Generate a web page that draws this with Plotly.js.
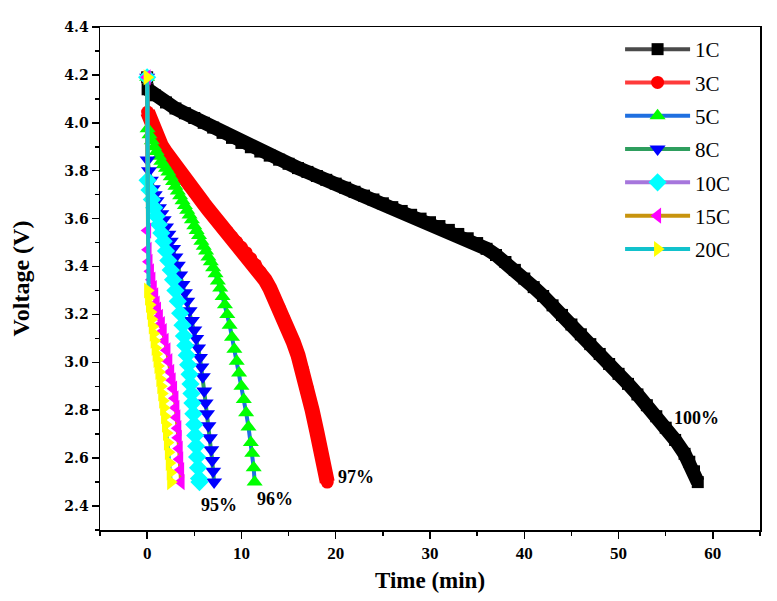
<!DOCTYPE html>
<html><head><meta charset="utf-8">
<script src="https://cdn.plot.ly/plotly-3.0.1.min.js"></script>
<style>html,body{margin:0;padding:0;background:#fff}#chart{width:777px;height:601px}</style>
</head><body><div id="chart"></div>
<script>
// ---- data ----
const seriesNames = ['1C','3C','5C','8C','10C','15C','20C'];

const t1C = [0, 0.05, 0.8, 2, 3, 4, 5, 6, 7, 8, 9, 10, 11, 12, 13, 14, 15, 16, 17, 18, 19, 20, 21, 22, 23, 24, 25, 26, 27, 28, 29, 30, 31, 32, 33, 34, 35, 36, 37, 38, 39, 40, 41, 42, 43, 44, 45, 46, 47, 48, 49, 50, 51, 52, 53, 54, 55, 56, 57, 57.5, 58, 58.4];
const v1C = [4.19, 4.14, 4.115, 4.085, 4.06, 4.04, 4.02, 4.0, 3.98, 3.958, 3.937, 3.916, 3.898, 3.88, 3.863, 3.846, 3.829, 3.811, 3.795, 3.778, 3.762, 3.746, 3.729, 3.712, 3.696, 3.68, 3.664, 3.648, 3.632, 3.616, 3.6, 3.585, 3.569, 3.553, 3.536, 3.518, 3.498, 3.474, 3.448, 3.419, 3.386, 3.35, 3.314, 3.277, 3.238, 3.198, 3.158, 3.117, 3.076, 3.035, 2.993, 2.952, 2.91, 2.866, 2.821, 2.775, 2.727, 2.676, 2.618, 2.585, 2.545, 2.5];

const t3C = [0, 0.05, 0.5, 1, 1.5, 2, 2.5, 3, 3.5, 4, 4.5, 5, 5.5, 6, 6.5, 7, 7.5, 8, 8.5, 9, 9.5, 10, 10.5, 11, 11.5, 12, 12.5, 13, 13.5, 14, 14.5, 15, 15.5, 16, 16.5, 17, 17.5, 18, 18.5, 18.8, 19.1];
const v3C = [4.19, 4.045, 3.99, 3.94, 3.905, 3.875, 3.845, 3.815, 3.79, 3.762, 3.737, 3.712, 3.688, 3.663, 3.638, 3.614, 3.592, 3.568, 3.545, 3.523, 3.502, 3.48, 3.458, 3.433, 3.407, 3.377, 3.345, 3.31, 3.27, 3.228, 3.183, 3.135, 3.085, 3.03, 2.97, 2.89, 2.80, 2.71, 2.61, 2.55, 2.5];

const t5C = [0, 0.05, 0.25, 0.5, 0.75, 1.0, 1.25, 1.5, 1.75, 2.0, 2.25, 2.5, 2.75, 3.0, 3.25, 3.5, 3.75, 4.0, 4.25, 4.5, 4.75, 5.0, 5.25, 5.5, 5.75, 6.0, 6.25, 6.5, 6.75, 7.0, 7.25, 7.5, 7.75, 8.0, 8.25, 8.5, 8.75, 9.0, 9.25, 9.5, 9.75, 10.0, 10.25, 10.5, 10.75, 11.0, 11.15, 11.3, 11.4];
const v5C = [4.19, 3.975, 3.95, 3.925, 3.90, 3.88, 3.86, 3.84, 3.825, 3.81, 3.795, 3.775, 3.755, 3.735, 3.715, 3.695, 3.675, 3.655, 3.635, 3.615, 3.595, 3.57, 3.55, 3.53, 3.505, 3.485, 3.465, 3.44, 3.42, 3.395, 3.37, 3.34, 3.31, 3.275, 3.24, 3.20, 3.155, 3.105, 3.055, 3.005, 2.955, 2.90, 2.845, 2.79, 2.73, 2.665, 2.62, 2.56, 2.50];

const t8C = [0, 0.05, 0.2, 0.4, 0.6, 0.8, 1.0, 1.25, 1.5, 1.75, 2.0, 2.25, 2.5, 2.75, 3.0, 3.25, 3.5, 3.75, 4.0, 4.25, 4.5, 4.75, 5.0, 5.2, 5.4, 5.6, 5.75, 5.9, 6.05, 6.2, 6.35, 6.5, 6.65, 6.8, 6.9, 7.0, 7.1];
const v8C = [4.19, 3.845, 3.80, 3.76, 3.725, 3.70, 3.675, 3.645, 3.62, 3.595, 3.565, 3.535, 3.505, 3.475, 3.44, 3.405, 3.365, 3.325, 3.29, 3.255, 3.215, 3.175, 3.135, 3.10, 3.06, 3.02, 2.98, 2.94, 2.88, 2.83, 2.785, 2.735, 2.685, 2.635, 2.59, 2.545, 2.50];

const t10C = [0, 0.05, 0.25, 0.5, 0.75, 1.0, 1.25, 1.5, 1.75, 2.0, 2.25, 2.5, 2.75, 3.0, 3.25, 3.5, 3.75, 3.9, 4.05, 4.2, 4.35, 4.5, 4.6, 4.7, 4.8, 4.9, 5.0, 5.1, 5.2, 5.3, 5.4, 5.5, 5.55];
const v10C = [4.19, 3.76, 3.72, 3.68, 3.645, 3.61, 3.575, 3.54, 3.505, 3.465, 3.425, 3.385, 3.345, 3.30, 3.255, 3.205, 3.155, 3.11, 3.07, 3.03, 2.99, 2.95, 2.91, 2.87, 2.83, 2.785, 2.74, 2.695, 2.65, 2.605, 2.56, 2.515, 2.50];

const t15C = [0, 0.05, 0.1, 0.2, 0.35, 0.5, 0.65, 0.8, 0.95, 1.1, 1.3, 1.5, 1.7, 1.9, 2.1, 2.3, 2.5, 2.65, 2.8, 2.95, 3.05, 3.15, 3.25, 3.3, 3.4, 3.45, 3.55, 3.6];
const v15C = [4.19, 3.55, 3.47, 3.42, 3.38, 3.345, 3.31, 3.28, 3.245, 3.22, 3.19, 3.16, 3.13, 3.09, 3.05, 3.005, 2.96, 2.925, 2.89, 2.85, 2.81, 2.77, 2.725, 2.685, 2.64, 2.595, 2.55, 2.50];

const t20C = [0, 0.05, 0.15, 0.25, 0.35, 0.45, 0.55, 0.65, 0.75, 0.85, 0.95, 1.05, 1.15, 1.25, 1.35, 1.45, 1.55, 1.65, 1.75, 1.85, 1.95, 2.05, 2.15, 2.25, 2.35, 2.45, 2.5];
const v20C = [4.19, 3.30, 3.27, 3.24, 3.21, 3.18, 3.15, 3.12, 3.09, 3.06, 3.035, 3.01, 2.985, 2.96, 2.93, 2.90, 2.87, 2.84, 2.81, 2.775, 2.74, 2.705, 2.665, 2.625, 2.58, 2.54, 2.50];

const efficiencyLabels = ['100%', '97%', '96%', '95%'];

// ---- styling ----
const xs = [t1C, t3C, t5C, t8C, t10C, t15C, t20C];
const ys = [v1C, v3C, v5C, v8C, v10C, v15C, v20C];
const lineColors = ['#4a4a4a', '#ff3b3b', '#1f6fe0', '#2e9e5e', '#a676dc', '#c8940e', '#12c2cc'];
const markerColors = ['#000000', '#ff0000', '#00ff00', '#0000ff', '#00ffff', '#ff00ff', '#ffff00'];
const symbols = ['square', 'circle', 'triangle-up', 'triangle-down', 'diamond', 'triangle-left', 'triangle-right'];
const markerSizes = [12, 13, 14, 14, 14, 14, 14];
const bandWidths = [14, 15];

const traces = [];
seriesNames.forEach((name, i) => {
  traces.push({
    x: xs[i], y: ys[i], name: name, mode: 'lines+markers', legendgroup: name,
    line: {color: lineColors[i], width: 4},
    marker: {symbol: symbols[i], size: markerSizes[i], color: markerColors[i], line: {width: 0}}
  });
  if (i < 2) {
    // continuous band where the recorded points overlap into a solid stroke
    traces.push({
      x: xs[i].slice(1), y: ys[i].slice(1), mode: 'lines', showlegend: false, hoverinfo: 'skip',
      line: {color: markerColors[i], width: bandWidths[i]}
    });
  }
});

const serif = 'Liberation Serif, Times New Roman, serif';
const annFont = {family: serif, size: 18, weight: 'bold', color: '#000'};

const layout = {
  width: 777, height: 601,
  margin: {l: 100, r: 17, t: 27, b: 71},
  paper_bgcolor: '#ffffff', plot_bgcolor: '#ffffff',
  showlegend: true,
  legend: {
    x: 0.788, y: 0.996, xanchor: 'left', yanchor: 'top',
    font: {family: serif, size: 21, color: '#000'},
    bgcolor: 'rgba(0,0,0,0)', borderwidth: 0, itemwidth: 65, tracegroupgap: 3
  },
  xaxis: {
    range: [-5, 65], tick0: 0, dtick: 10,
    ticks: 'outside', ticklen: 7, tickwidth: 1.5, tickcolor: '#000',
    showline: true, linecolor: '#000', linewidth: 1.5, mirror: true,
    showgrid: false, zeroline: false,
    tickfont: {family: serif, size: 17, weight: 'bold', color: '#000'},
    minor: {dtick: 5, ticks: 'outside', ticklen: 4, tickwidth: 1.5, tickcolor: '#000', showgrid: false},
    title: {text: 'Time (min)', font: {family: serif, size: 23, weight: 'bold', color: '#000'}, standoff: 10}
  },
  yaxis: {
    range: [2.3, 4.4], tick0: 2.4, dtick: 0.2, tickformat: '.1f',
    ticks: 'outside', ticklen: 7, tickwidth: 1.5, tickcolor: '#000',
    showline: true, linecolor: '#000', linewidth: 1.5, mirror: true,
    showgrid: false, zeroline: false,
    tickfont: {family: 'DejaVu Serif, serif', size: 14, weight: 'bold', color: '#000'},
    minor: {dtick: 0.1, ticks: 'outside', ticklen: 4, tickwidth: 1.5, tickcolor: '#000', showgrid: false},
    title: {text: 'Voltage (V)', font: {family: serif, size: 24, weight: 'bold', color: '#000'}, standoff: 28}
  },
  annotations: [
    {x: 58.3, y: 2.766, text: efficiencyLabels[0], showarrow: false, font: annFont},
    {x: 22.2, y: 2.52, text: efficiencyLabels[1], showarrow: false, font: annFont},
    {x: 13.6, y: 2.428, text: efficiencyLabels[2], showarrow: false, font: annFont},
    {x: 7.6, y: 2.403, text: efficiencyLabels[3], showarrow: false, font: annFont}
  ]
};

Plotly.newPlot('chart', traces, layout, {displayModeBar: false, staticPlot: true});
</script>
</body></html>
